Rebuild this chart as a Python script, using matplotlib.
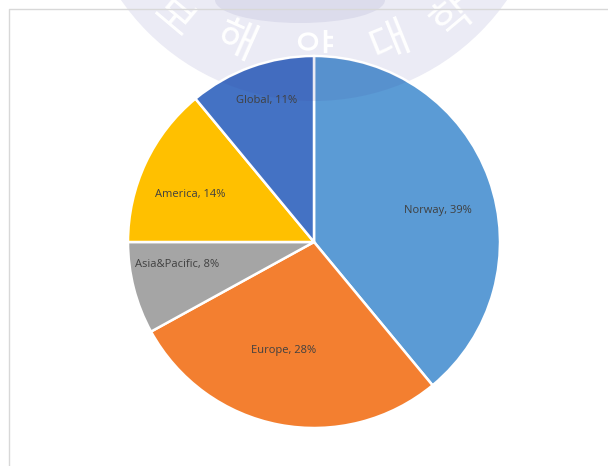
import matplotlib
matplotlib.use("Agg")
import matplotlib.pyplot as plt
from matplotlib.patches import Circle, Ellipse

regions = ["Norway", "Europe", "Asia&Pacific", "America", "Global"]
shares = [39, 28, 8, 14, 11]
colors = ["#5b9bd5", "#f37f30", "#a5a5a5", "#ffc000", "#4472c4"]
label_pos = [(438, 255), (284, 116), (177, 201), (190, 272), (267, 365)]

seal_chars = ["보", "해", "양", "대", "학"]
seal_pos = [(173, 448), (236, 424), (314, 412), (390, 423), (453, 448)]
seal_rot = [-40, -24, 0, 22, 40]

pie_center = (314, 224)
pie_radius = 186
seal_center = (314, 600)
seal_radius = 235
seal_color = "#3a3a96"

fig = plt.figure(figsize=(6.08, 4.66), dpi=100)
ax = fig.add_axes([0, 0, 1, 1])

# pale seal behind the chart, lettering knocked out in white
ax.add_patch(Circle(seal_center, seal_radius, fc="#ebebf5", ec="none", zorder=0))
ax.add_patch(Ellipse((300, 466), 170, 46, fc="#dcdcec", ec="none", zorder=0.2))
for ch, (x, y), rot in zip(seal_chars, seal_pos, seal_rot):
    ax.text(x, y, ch, ha="center", va="center", rotation=rot, fontsize=31,
            family="Noto Sans CJK KR", color="white", zorder=0.5)

# thin page frame on the top and left
ax.plot([9, 9, 608], [0, 457, 457], color="#d8d8d8", lw=1, zorder=1)

ax.pie(shares, colors=colors, startangle=90, counterclock=False,
       center=pie_center, radius=pie_radius,
       wedgeprops={"edgecolor": "white", "linewidth": 1.8, "zorder": 2},
       frame=True)
ax.set_xlim(0, 608)
ax.set_ylim(0, 466)
ax.set_aspect("equal")
ax.axis("off")

# the seal shows through the top of the pie as a slight darkening
shade = Circle(seal_center, seal_radius, fc=seal_color, alpha=0.1, ec="none", zorder=2.5)
ax.add_patch(shade)
shade.set_clip_path(Circle(pie_center, pie_radius - 1, transform=ax.transData))

for region, share, (x, y) in zip(regions, shares, label_pos):
    ax.text(x, y, f"{region}, {share}%", ha="center", va="center",
            fontsize=8, family="Open Sans", color="#404040", zorder=3)

fig.savefig("out.png", dpi=100)
